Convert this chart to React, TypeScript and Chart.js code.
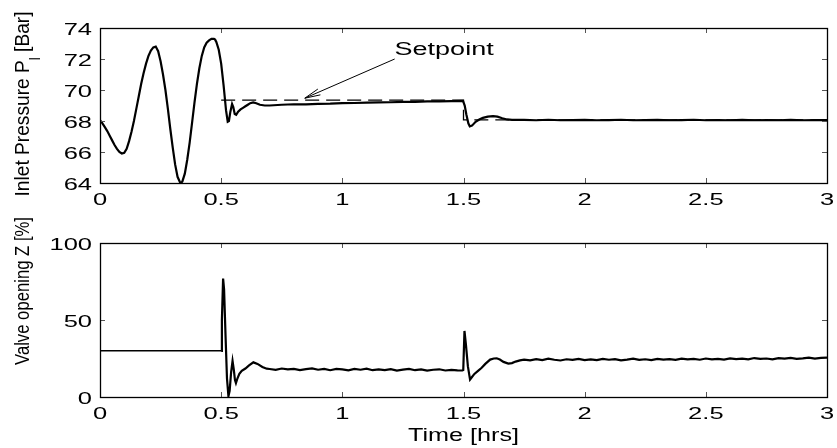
import React, { useEffect, useRef } from "react";
import { Chart, registerables } from "chart.js";

Chart.register(...registerables);

const FONT = '"Liberation Sans", Arial, Helvetica, sans-serif';

// ---------- data ----------
const timeTicks = [0, 0.5, 1, 1.5, 2, 2.5, 3];
const timeTickLabels = ["0", "0.5", "1", "1.5", "2", "2.5", "3"];
const pressureTicks = [64, 66, 68, 70, 72, 74];
const pressureTickLabels = ["64", "66", "68", "70", "72", "74"];
const valveTicks = [0, 50, 100];
const valveTickLabels = ["0", "50", "100"];

// Inlet pressure [bar] vs time [hrs]
const pressureSeries: [number, number][] = [
  [0, 68.05], [0.01, 67.85], [0.02, 67.6], [0.03, 67.35], [0.04, 67.05], [0.05, 66.75],
  [0.06, 66.45], [0.07, 66.2], [0.08, 66.0], [0.09, 65.9], [0.1, 65.95], [0.11, 66.2],
  [0.12, 66.7], [0.13, 67.3], [0.14, 68.0], [0.15, 68.8], [0.16, 69.6], [0.17, 70.4],
  [0.18, 71.1], [0.19, 71.7], [0.2, 72.2], [0.21, 72.55], [0.22, 72.75], [0.23, 72.8],
  [0.24, 72.5], [0.25, 71.85], [0.26, 71.0], [0.27, 70.0], [0.28, 68.8], [0.29, 67.5],
  [0.3, 66.3], [0.31, 65.2], [0.32, 64.4], [0.33, 64.05], [0.335, 64.0], [0.34, 64.1],
  [0.35, 64.6], [0.36, 65.5], [0.37, 66.6], [0.38, 67.9], [0.39, 69.2], [0.4, 70.4],
  [0.41, 71.4], [0.42, 72.2], [0.43, 72.75], [0.44, 73.05], [0.45, 73.2], [0.46, 73.3],
  [0.47, 73.3], [0.475, 73.25], [0.48, 73.1], [0.49, 72.6], [0.5, 71.7], [0.51, 70.3],
  [0.52, 68.7], [0.527, 67.95], [0.532, 68.0], [0.538, 68.6], [0.545, 69.1], [0.55, 68.9],
  [0.556, 68.45], [0.562, 68.4], [0.57, 68.6], [0.58, 68.75], [0.59, 68.85], [0.6, 68.95],
  [0.61, 69.05], [0.62, 69.15], [0.632, 69.2], [0.645, 69.15], [0.66, 69.05], [0.68, 69.0],
  [0.7, 69.0], [0.75, 69.05], [0.8, 69.08], [0.85, 69.07], [0.9, 69.11], [0.95, 69.12],
  [1.0, 69.15], [1.05, 69.16], [1.1, 69.18], [1.15, 69.2], [1.2, 69.21], [1.25, 69.23],
  [1.3, 69.24], [1.35, 69.26], [1.4, 69.27], [1.45, 69.28], [1.498, 69.3],
  [1.505, 69.0], [1.512, 68.4], [1.52, 67.85], [1.526, 67.65], [1.535, 67.7], [1.55, 67.95],
  [1.565, 68.1], [1.58, 68.2], [1.6, 68.28], [1.622, 68.32], [1.64, 68.28], [1.66, 68.18],
  [1.68, 68.1], [1.7, 68.07],
  [1.75, 68.07], [1.8, 68.05], [1.85, 68.08], [1.9, 68.05], [1.95, 68.06], [2.0, 68.07],
  [2.05, 68.05], [2.1, 68.06], [2.15, 68.08], [2.2, 68.05], [2.25, 68.06], [2.3, 68.07],
  [2.35, 68.05], [2.4, 68.06], [2.45, 68.08], [2.5, 68.05], [2.55, 68.06], [2.6, 68.05],
  [2.65, 68.07], [2.7, 68.05], [2.75, 68.06], [2.8, 68.05], [2.85, 68.07], [2.9, 68.05],
  [2.95, 68.06], [3.0, 68.05],
];

// Pressure setpoint [bar]
const setpointSeries: [number, number][] = [
  [0.5, 69.35], [1.5, 69.35], [1.5, 68.07], [3.0, 68.07],
];

// Valve opening [%] vs time [hrs]
const valveSeries: [number, number][] = [
  [0, 30], [0.5, 30], [0.503, 50], [0.508, 76.9], [0.512, 70], [0.518, 40], [0.524, 12],
  [0.53, 0.5], [0.535, 4], [0.541, 16], [0.547, 23.4], [0.552, 18], [0.557, 11], [0.561, 9],
  [0.567, 12], [0.575, 15], [0.585, 17], [0.6, 18.5], [0.615, 20.5], [0.633, 22.5],
  [0.65, 21.5], [0.67, 19.5], [0.688, 18.4],
  [0.7, 18.2], [0.725, 17.6], [0.75, 18.5], [0.775, 17.9], [0.8, 18.3], [0.825, 17.5],
  [0.85, 18.1], [0.875, 18.6], [0.9, 17.7], [0.925, 18.2], [0.95, 17.4], [0.975, 18.3],
  [1.0, 17.9], [1.025, 17.3], [1.05, 18.2], [1.075, 17.7], [1.1, 18.4], [1.125, 17.4],
  [1.15, 17.9], [1.175, 17.5], [1.2, 18.1], [1.225, 17.2], [1.25, 17.8], [1.275, 18.2],
  [1.3, 17.4], [1.325, 17.9], [1.35, 17.1], [1.375, 17.7], [1.4, 18.0], [1.425, 17.2],
  [1.45, 17.6], [1.475, 17.3],
  [1.495, 17.2], [1.499, 17.5], [1.504, 42.9], [1.51, 34], [1.518, 20], [1.527, 11.3],
  [1.535, 13], [1.545, 15], [1.56, 17], [1.575, 19], [1.59, 21.5], [1.61, 24.3],
  [1.625, 25], [1.637, 25.1], [1.65, 24.3], [1.665, 22.8], [1.685, 21.7], [1.7, 22],
  [1.715, 23], [1.733, 23.8],
  [1.75, 24.3], [1.775, 23.8], [1.8, 24.6], [1.825, 24.0], [1.85, 24.9], [1.875, 24.2],
  [1.9, 23.7], [1.925, 24.5], [1.95, 24.1], [1.975, 24.8], [2.0, 24.0], [2.025, 24.4],
  [2.05, 23.9], [2.075, 24.7], [2.1, 24.2], [2.125, 24.6], [2.15, 23.8], [2.175, 24.3],
  [2.2, 24.9], [2.225, 24.1], [2.25, 24.5], [2.275, 24.0], [2.3, 24.8], [2.325, 24.3],
  [2.35, 24.6], [2.375, 24.1], [2.4, 24.9], [2.425, 24.4], [2.45, 24.7], [2.475, 24.2],
  [2.5, 25.0], [2.525, 24.5], [2.55, 24.8], [2.575, 24.3], [2.6, 25.1], [2.625, 24.6],
  [2.65, 24.9], [2.675, 24.4], [2.7, 25.3], [2.725, 24.8], [2.75, 25.0], [2.775, 24.5],
  [2.8, 25.2], [2.825, 24.9], [2.85, 25.4], [2.875, 24.8], [2.9, 25.1], [2.925, 25.5],
  [2.95, 24.9], [2.975, 25.4], [3.0, 25.6],
];

// "Setpoint" annotation anchors, in data units (time, bar)
const setpointLabel = { text: "Setpoint", x: 1.42, y: 72.27 };
const setpointArrowTail = { x: 1.216, y: 72.0 };
const setpointArrowTip = { x: 0.845, y: 69.47 };

// ---------- drawing helpers ----------
type TitlePart = { text: string; size: number; shift: number };

function stretchedText(
  ctx: CanvasRenderingContext2D, text: string, x: number, y: number,
  size: number, sx: number, align: CanvasTextAlign
) {
  ctx.save();
  ctx.font = `${size}px ${FONT}`;
  ctx.textAlign = align;
  ctx.textBaseline = "alphabetic";
  ctx.fillStyle = "#000";
  ctx.translate(x, y);
  ctx.scale(sx, 1);
  ctx.fillText(text, 0, 0);
  ctx.restore();
}

function rotatedTitle(
  ctx: CanvasRenderingContext2D, parts: TitlePart[], baseX: number, centerY: number, length: number
) {
  ctx.save();
  const widths = parts.map((p) => {
    ctx.font = `${p.size}px ${FONT}`;
    return ctx.measureText(p.text).width;
  });
  const total = widths.reduce((a, b) => a + b, 0);
  const k = length / total;
  ctx.translate(baseX, centerY);
  ctx.rotate(-Math.PI / 2);
  ctx.scale(k, 1);
  ctx.fillStyle = "#000";
  ctx.textAlign = "left";
  ctx.textBaseline = "alphabetic";
  let x = -total / 2;
  parts.forEach((p, i) => {
    ctx.font = `${p.size}px ${FONT}`;
    ctx.fillText(p.text, x, p.shift);
    x += widths[i];
  });
  ctx.restore();
}

type AxesCfg = {
  yTicks: number[];
  yTickLabels: string[];
  title: TitlePart[];
  titleCenterY: number;
  titleLength: number;
  xTitle?: string;
  annotate?: boolean;
};

const TICK_SIZE = 17;
const TICK_SX = 1.5;

function makeAxesPlugin(cfg: AxesCfg) {
  return {
    id: "matlabAxes",
    afterDatasetsDraw(chart: any) {
      const ctx: CanvasRenderingContext2D = chart.ctx;
      const { left, right, top, bottom } = chart.chartArea;
      const xs = chart.scales.x;
      const ys = chart.scales.y;
      ctx.save();
      // inner tick marks
      ctx.strokeStyle = "#555";
      ctx.lineWidth = 1;
      ctx.beginPath();
      timeTicks.forEach((v) => {
        const px = Math.round(xs.getPixelForValue(v)) + 0.5;
        ctx.moveTo(px, bottom);
        ctx.lineTo(px, bottom - 5);
        ctx.moveTo(px, top);
        ctx.lineTo(px, top + 5);
      });
      cfg.yTicks.forEach((v) => {
        const py = Math.round(ys.getPixelForValue(v)) + 0.5;
        ctx.moveTo(left, py);
        ctx.lineTo(left + 5, py);
        ctx.moveTo(right, py);
        ctx.lineTo(right - 5, py);
      });
      ctx.stroke();
      // box
      ctx.strokeStyle = "#000";
      ctx.lineWidth = 1.3;
      ctx.strokeRect(left + 0.5, top + 0.5, right - left, bottom - top);
      ctx.restore();

      // tick labels
      timeTicks.forEach((v, i) => {
        stretchedText(ctx, timeTickLabels[i], xs.getPixelForValue(v), bottom + 22, TICK_SIZE, TICK_SX, "center");
      });
      cfg.yTicks.forEach((v, i) => {
        stretchedText(ctx, cfg.yTickLabels[i], left - 8, ys.getPixelForValue(v) + 7, TICK_SIZE, TICK_SX, "right");
      });

      // titles
      rotatedTitle(ctx, cfg.title, 29, cfg.titleCenterY, cfg.titleLength);
      if (cfg.xTitle) {
        stretchedText(ctx, cfg.xTitle, (left + right) / 2, bottom + 44, 18, 1.4, "center");
      }

      // setpoint annotation
      if (cfg.annotate) {
        stretchedText(
          ctx, setpointLabel.text,
          xs.getPixelForValue(setpointLabel.x), ys.getPixelForValue(setpointLabel.y),
          18, 1.5, "center"
        );
        const tx = xs.getPixelForValue(setpointArrowTail.x);
        const ty = ys.getPixelForValue(setpointArrowTail.y);
        const hx = xs.getPixelForValue(setpointArrowTip.x);
        const hy = ys.getPixelForValue(setpointArrowTip.y);
        const ang = Math.atan2(ty - hy, tx - hx);
        const L = 16;
        const spread = 0.2;
        ctx.save();
        ctx.strokeStyle = "#000";
        ctx.lineWidth = 1;
        ctx.beginPath();
        ctx.moveTo(tx, ty);
        ctx.lineTo(hx, hy);
        ctx.moveTo(hx + L * Math.cos(ang + spread), hy + L * Math.sin(ang + spread));
        ctx.lineTo(hx, hy);
        ctx.lineTo(hx + L * Math.cos(ang - spread), hy + L * Math.sin(ang - spread));
        ctx.stroke();
        ctx.restore();
      }
    },
  };
}

function toXY(series: [number, number][]) {
  return series.map(([x, y]) => ({ x, y }));
}

function makeConfig(datasets: any[], yMin: number, yMax: number, padding: any, plugin: any): any {
  return {
    type: "line",
    data: { datasets },
    options: {
      animation: false,
      responsive: false,
      devicePixelRatio: 1,
      layout: { padding },
      elements: { point: { radius: 0 }, line: { tension: 0 } },
      scales: {
        x: { type: "linear", min: 0, max: 3, display: false },
        y: { type: "linear", min: yMin, max: yMax, display: false },
      },
      plugins: { legend: { display: false }, tooltip: { enabled: false } },
    },
    plugins: [plugin],
  };
}

export default function App() {
  const topRef = useRef<HTMLCanvasElement>(null);
  const botRef = useRef<HTMLCanvasElement>(null);

  useEffect(() => {
    const topChart = new Chart(
      topRef.current!,
      makeConfig(
        [
          {
            data: toXY(pressureSeries),
            borderColor: "#000",
            borderWidth: 2.2,
            pointRadius: 0,
            order: 0,
          },
          {
            data: toXY(setpointSeries),
            borderColor: "#000",
            borderWidth: 1.3,
            borderDash: [14, 7],
            pointRadius: 0,
            order: 1,
          },
        ],
        64, 74,
        { left: 100, right: 10, top: 28, bottom: 265 },
        makeAxesPlugin({
          yTicks: pressureTicks,
          yTickLabels: pressureTickLabels,
          title: [
            { text: "Inlet Pressure P", size: 20, shift: 0 },
            { text: "l", size: 14, shift: 11 },
            { text: " [Bar]", size: 20, shift: 0 },
          ],
          titleCenterY: 104,
          titleLength: 185,
          annotate: true,
        })
      )
    );
    const botChart = new Chart(
      botRef.current!,
      makeConfig(
        [
          {
            data: toXY(valveSeries),
            borderColor: "#000",
            borderWidth: 2.2,
            pointRadius: 0,
            segment: {
              borderWidth: (c: any) => (c.p1.parsed.x <= 0.5 ? 1.4 : 2.2),
            },
          },
        ],
        0, 100,
        { left: 100, right: 10, top: 243, bottom: 51 },
        makeAxesPlugin({
          yTicks: valveTicks,
          yTickLabels: valveTickLabels,
          title: [{ text: "Valve opening Z [%]", size: 20, shift: 0 }],
          titleCenterY: 291,
          titleLength: 148,
          xTitle: "Time [hrs]",
        })
      )
    );
    return () => {
      topChart.destroy();
      botChart.destroy();
    };
  }, []);

  return (
    <div style={{ position: "absolute", left: 0, top: 0, width: 837, height: 448, background: "#fff" }}>
      <canvas ref={topRef} width={837} height={448} style={{ position: "absolute", left: 0, top: 0 }} />
      <canvas ref={botRef} width={837} height={448} style={{ position: "absolute", left: 0, top: 0 }} />
    </div>
  );
}
